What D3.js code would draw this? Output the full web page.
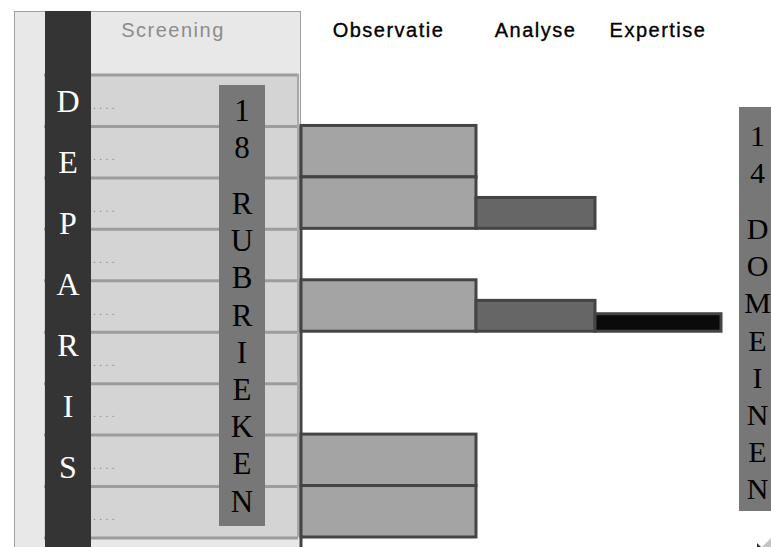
<!DOCTYPE html>
<html>
<head>
<meta charset="utf-8">
<script src="https://cdn.jsdelivr.net/npm/d3@7"></script>
<style>
  html, body { margin: 0; padding: 0; background: #fff; overflow: hidden; }
</style>
</head>
<body>
<div id="chart"></div>
<script>
// stages of the procedure (column headers)
const stages = ["Screening", "Observatie", "Analyse", "Expertise"];

// the 9 visible rubrieken rows and the last stage each one reaches (0 = screening only)
const rubrieken = [1, 2, 3, 4, 5, 6, 7, 8, 9];
const stageReached = [0, 1, 2, 0, 3, 0, 0, 1, 1];

// vertical labels
const deparisLetters = ["D", "E", "P", "A", "R", "I", "S"];
const rubriekLabel = ["1", "8", "", "R", "U", "B", "R", "I", "E", "K", "E", "N"];
const domeinLabel = ["1", "4", "", "D", "O", "M", "E", "I", "N", "E", "N"];

const width = 771, height = 547;

const svg = d3.select("#chart").append("svg")
  .attr("width", width)
  .attr("height", height)
  .style("display", "block");

// scales
const y = d3.scaleBand()
  .domain(rubrieken)
  .range([74, 537])
  .paddingInner(0);

// stage boundaries: stage k spans edge(k) .. edge(k+1)
const edge = d3.scaleLinear()
  .domain([0, 1, 2, 3, 4])
  .range([45, 301, 476, 595, 721]);

const barFrac = d3.scaleOrdinal()
  .domain([1, 2, 3])
  .range([1, 0.6, 0.34]);

const barFill = d3.scaleOrdinal()
  .domain([1, 2, 3])
  .range(["#a4a4a4", "#666666", "#0b0b0b"]);

// screening panel
svg.append("rect")
  .attr("x", 14.5).attr("y", 11.5)
  .attr("width", 286).attr("height", 560)
  .attr("fill", "#e8e8e8")
  .attr("stroke", "#a0a0a0");

// rubriek rows
const rowG = svg.append("g");
rowG.selectAll("rect.row")
  .data(rubrieken)
  .join("rect")
    .attr("class", "row")
    .attr("x", 44)
    .attr("y", d => y(d))
    .attr("width", 254)
    .attr("height", y.bandwidth())
    .attr("fill", "#d4d4d4");

rowG.selectAll("line.sep")
  .data([...rubrieken.map(d => y(d)), y.range()[1]])
  .join("line")
    .attr("class", "sep")
    .attr("x1", 44).attr("x2", 298)
    .attr("y1", d => d + 1).attr("y2", d => d + 1)
    .attr("stroke", "#9c9c9c")
    .attr("stroke-width", 3);

rowG.append("line")
  .attr("x1", 298).attr("x2", 298)
  .attr("y1", y.range()[0]).attr("y2", y.range()[1])
  .attr("stroke", "#a8a8a8")
  .attr("stroke-width", 2);

rowG.selectAll("text.dots")
  .data(rubrieken)
  .join("text")
    .attr("class", "dots")
    .attr("x", 93)
    .attr("y", d => y(d) + y.bandwidth() / 2 + 9)
    .attr("fill", "#7a7a7a")
    .style("font-family", "Liberation Sans, Arial, sans-serif")
    .style("font-size", "10px")
    .style("letter-spacing", "3.5px")
    .text("....");

// DEPARIS bar
svg.append("rect")
  .attr("x", 45).attr("y", 11)
  .attr("width", 46).attr("height", height - 11)
  .attr("fill", "#343434");

svg.selectAll("text.deparis")
  .data(deparisLetters)
  .join("text")
    .attr("class", "deparis")
    .attr("x", 68)
    .attr("y", (d, i) => 112 + i * 61)
    .attr("text-anchor", "middle")
    .attr("fill", "#fff")
    .style("font-family", "Liberation Serif, 'Times New Roman', serif")
    .style("font-size", "32px")
    .text(d => d);

// vertical label box helper
function letterBox(labels, x, top, boxH, firstY, textX, size) {
  svg.append("rect")
    .attr("x", x).attr("y", top)
    .attr("width", 46).attr("height", boxH)
    .attr("fill", "#777777");
  let cy = firstY;
  const ys = labels.map(d => {
    const v = cy;
    cy += d === "" ? 19 : 37.2;
    return v;
  });
  svg.append("g").selectAll("text")
    .data(labels.map((d, i) => ({ d, y: ys[i] })).filter(o => o.d !== ""))
    .join("text")
      .attr("x", textX)
      .attr("y", o => o.y + 10.5)
      .attr("text-anchor", "middle")
      .attr("fill", "#000")
      .style("font-family", "Liberation Serif, 'Times New Roman', serif")
      .style("font-size", size + "px")
      .text(o => o.d);
}

letterBox(rubriekLabel, 219, 85, 441, 110, 242, 31);

// stage headers
svg.selectAll("text.stage")
  .data(stages)
  .join("text")
    .attr("class", "stage")
    .attr("x", (d, i) => (edge(i) + edge(i + 1)) / 2)
    .attr("y", 37)
    .attr("text-anchor", "middle")
    .attr("fill", (d, i) => i === 0 ? "#8c8c8c" : "#000")
    .attr("stroke", (d, i) => i === 0 ? "none" : "#000")
    .attr("stroke-width", 0.35)
    .style("font-family", "Liberation Sans, Arial, sans-serif")
    .style("font-size", "20px")
    .style("letter-spacing", "1.5px")
    .text(d => d);

// bars: one per stage reached in each row
const bars = [];
rubrieken.forEach((r, i) => {
  for (let k = 1; k <= stageReached[i]; k++) bars.push({ row: r, stage: k });
});

const firstBarRow = rubrieken[stageReached.findIndex(s => s > 0)];
svg.append("line")
  .attr("x1", edge(1)).attr("x2", edge(1))
  .attr("y1", y(firstBarRow)).attr("y2", height)
  .attr("stroke", "#444")
  .attr("stroke-width", 3);

svg.append("g").selectAll("rect")
  .data(bars)
  .join("rect")
    .attr("x", d => edge(d.stage))
    .attr("y", d => y(d.row) + y.bandwidth() * (1 - barFrac(d.stage)))
    .attr("width", d => edge(d.stage + 1) - edge(d.stage))
    .attr("height", d => y.bandwidth() * barFrac(d.stage))
    .attr("fill", d => barFill(d.stage))
    .attr("stroke", "#444")
    .attr("stroke-width", 3);

// 14 domeinen box at the right edge
letterBox(domeinLabel, 739, 107, 404, 135, 757.5, 30);

// small corner mark
svg.append("path")
  .attr("d", "M762,547 L771,538 L771,547 Z")
  .attr("fill", "#c4c4c4");
svg.append("path")
  .attr("d", "M757,543 L761,547 L757,547 Z")
  .attr("fill", "#333");
</script>
</body>
</html>
